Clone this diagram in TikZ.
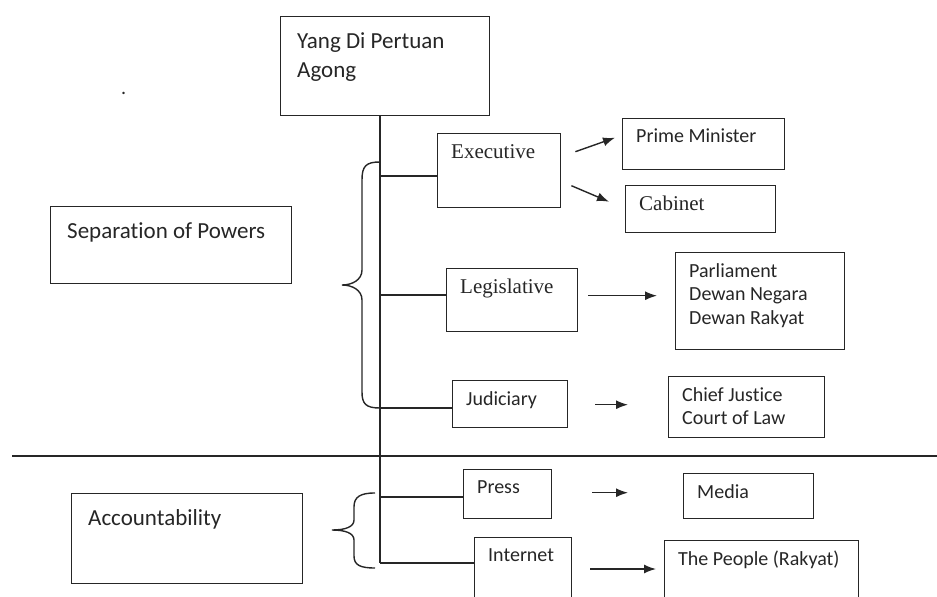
\documentclass[tikz,border=0pt]{standalone}
\usepackage{fontspec}
\setmainfont{Carlito}[Ligatures=NoCommon]
\newfontfamily\timesfont{Liberation Serif}
\usetikzlibrary{arrows.meta}

\begin{document}
\begin{tikzpicture}[
    x=1pt, y=-1pt,
    box/.style={draw=black!85, line width=1.4pt, rectangle, anchor=north west, inner sep=0pt},
    lbl/.style={anchor=north west, inner sep=0pt, align=left, xshift=14pt, yshift=-11pt,
        font=\fontsize{20}{23.5}\selectfont, text=black!85},
    big/.style={xshift=3pt, yshift=-5pt, font=\fontsize{23}{29}\selectfont},
    rm/.style={font=\timesfont\fontsize{21}{24}\selectfont},
    line/.style={black!85, line width=1.4pt},
    arr/.style={line, -{Latex[length=12pt, width=9pt]}}
]
    \useasboundingbox (0,0) rectangle (937,597);
    \clip (0,0) rectangle (937,597);

    % boxes
    \node[box, minimum width=209pt, minimum height=99pt,
        label={[lbl, big]north west:{Yang Di Pertuan\\Agong}}] (ydp) at (280,16) {};
    \node[box, minimum width=241pt, minimum height=77pt,
        label={[lbl, big]north west:Separation of Powers}] (sop) at (50,206) {};
    \node[box, minimum width=123pt, minimum height=74pt,
        label={[lbl, rm]north west:Executive}] (exec) at (437,133) {};
    \node[box, minimum width=162pt, minimum height=51pt,
        label={[lbl]north west:Prime Minister}] (pm) at (622,118) {};
    \node[box, minimum width=150pt, minimum height=47pt,
        label={[lbl, rm]north west:Cabinet}] (cab) at (625,185) {};
    \node[box, minimum width=131pt, minimum height=63pt,
        label={[lbl, rm]north west:Legislative}] (leg) at (446,268) {};
    \node[box, minimum width=169pt, minimum height=97pt,
        label={[lbl]north west:{Parliament\\Dewan Negara\\Dewan Rakyat}}] (parl) at (675,252) {};
    \node[box, minimum width=115pt, minimum height=47pt,
        label={[lbl]north west:Judiciary}] (jud) at (452,380) {};
    \node[box, minimum width=156pt, minimum height=61pt,
        label={[lbl]north west:{Chief Justice\\Court of Law}}] (cj) at (668,376) {};
    \node[box, minimum width=88pt, minimum height=49pt,
        label={[lbl]north west:Press}] (press) at (463,469) {};
    \node[box, minimum width=130pt, minimum height=45pt,
        label={[lbl]north west:Media}] (media) at (683,473) {};
    \node[box, minimum width=231pt, minimum height=90pt,
        label={[lbl, big]north west:Accountability}] (acc) at (71,493) {};
    \node[box, minimum width=97pt, minimum height=80pt,
        label={[lbl]north west:Internet}] (net) at (474,537) {};
    \node[box, minimum width=194pt, minimum height=80pt,
        label={[lbl]north west:The People (Rakyat)}] (ppl) at (664,540) {};
    \node[lbl, xshift=0pt, yshift=0pt] (dot) at (107,81) {.};

    % trunk and branches
    \coordinate (j1) at (380,176);
    \coordinate (j2) at (380,295);
    \coordinate (j3) at (380,408);
    \coordinate (j4) at (380,497);
    \coordinate (j5) at (380,563);
    \draw[line] (ydp.south -| j1) -- (j5);
    \draw[line] (j1) -- (j1 -| exec.west);
    \draw[line] (j2) -- (j2 -| leg.west);
    \draw[line] (j3) -- (j3 -| jud.west);
    \draw[line] (j4) -- (j4 -| press.west);
    \draw[line] (j5) -- (j5 -| net.west);

    % divider
    \coordinate (d1) at (12,456);
    \coordinate (d2) at (937,456);
    \draw[line] (d1) -- (d2);

    % braces
    \draw[line] (380,162) .. controls (366,162) and (362,166) .. (362,180) -- (362,270)
        .. controls (362,280) and (352,285) .. (342,285)
        .. controls (352,285) and (362,290) .. (362,300) -- (362,392)
        .. controls (362,404) and (366,408) .. (380,408);
    \draw[line] (375,493) .. controls (360,493) and (354,497) .. (354,507) -- (354,520)
        .. controls (354,527) and (345,530) .. (332,530)
        .. controls (345,530) and (354,533) .. (354,540) -- (354,556)
        .. controls (354,565) and (360,568) .. (375,568);

    % arrows
    \draw[arr] ([shift={(14,-19)}]exec.east) -- ([shift={(-7,-6.5)}]pm.west);
    \draw[arr] ([shift={(10,15)}]exec.east) -- ([shift={(-16,-7.5)}]cab.west);
    \draw[arr] ([shift={(10,-4.5)}]leg.east) -- ([shift={(-18,-5.5)}]parl.west);
    \draw[arr] ([shift={(27,0.5)}]jud.east) -- ([shift={(-40,-2.5)}]cj.west);
    \draw[arr] ([shift={(40,-1.5)}]press.east) -- ([shift={(-55,-3.5)}]media.west);
    \draw[arr] ([shift={(18,32)}]net.north east) -- ([shift={(-8,29)}]ppl.north west);
\end{tikzpicture}
\end{document}
